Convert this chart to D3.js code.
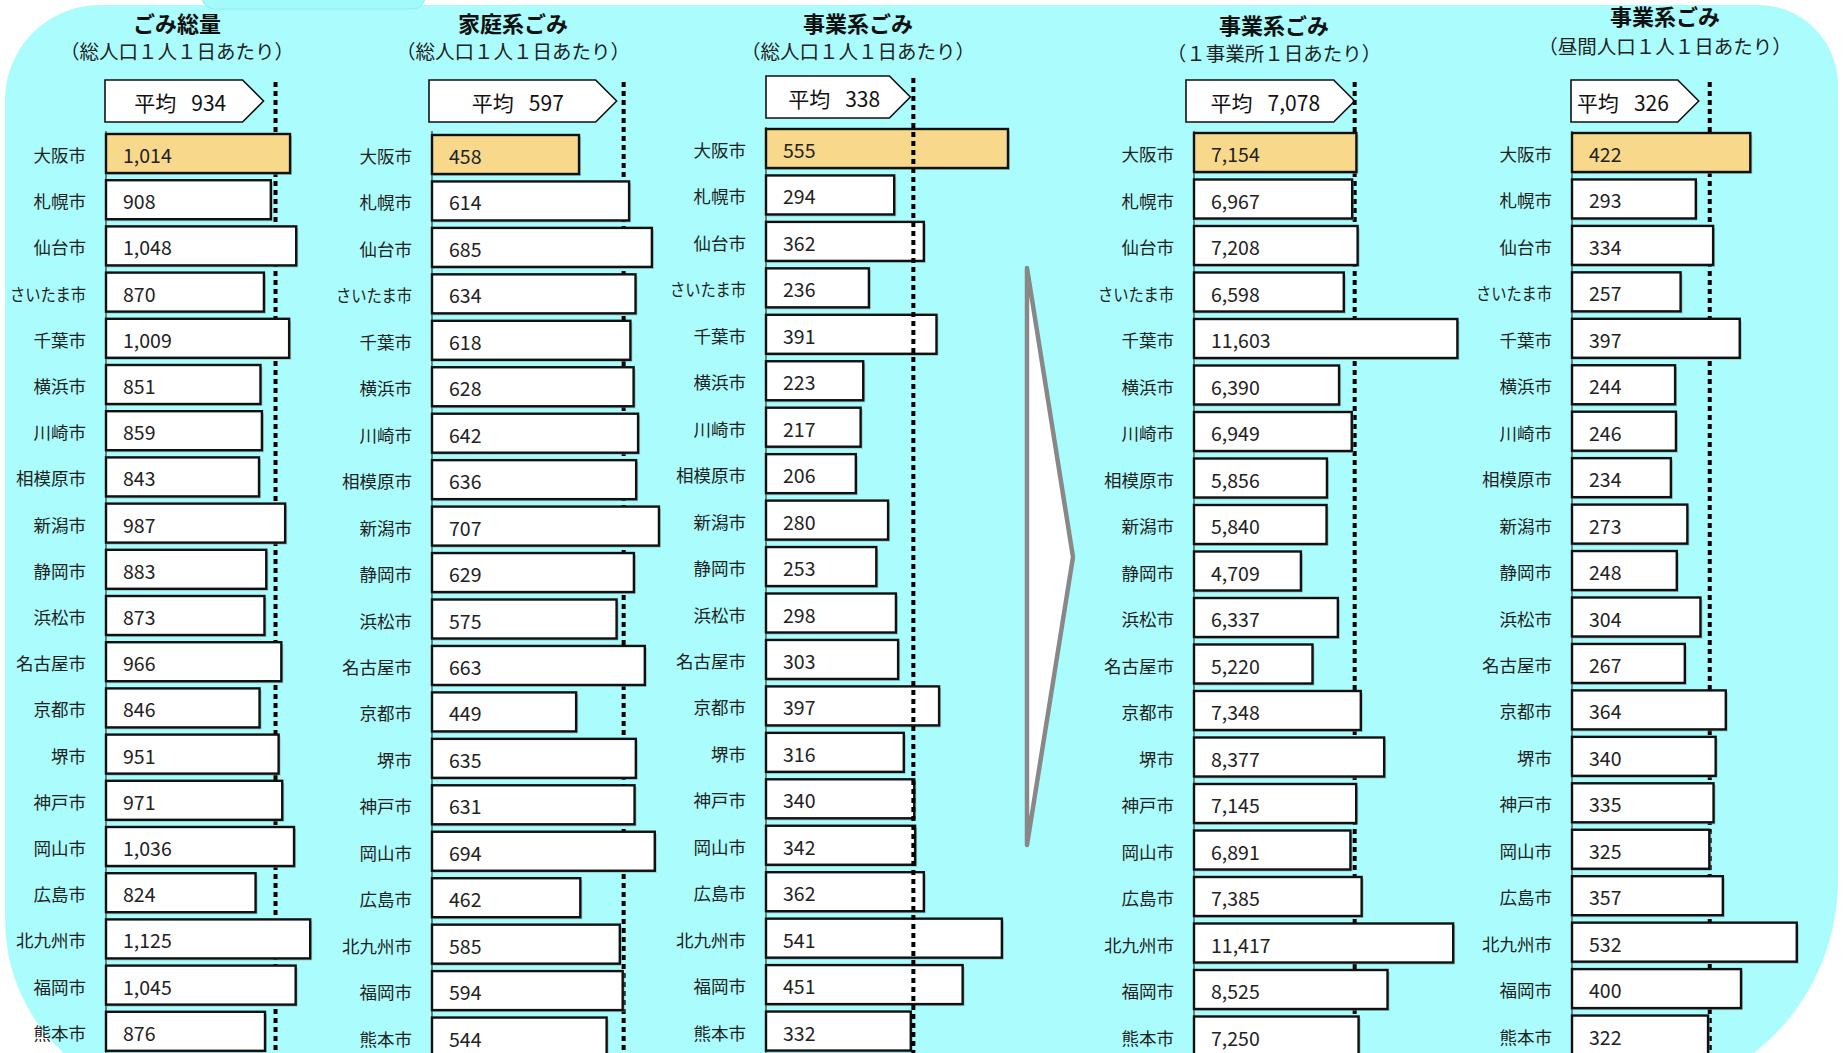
<!DOCTYPE html>
<html>
<head>
<meta charset="utf-8">
<script src="https://cdn.jsdelivr.net/npm/d3@7"></script>
<style>
  html, body { margin: 0; padding: 0; background: #fff; }
  svg { display: block; font-family: "Noto Sans CJK JP", "Noto Sans", sans-serif; }
</style>
</head>
<body>
<div id="chart"></div>
<script>
// ---- data ----
const cities = ['大阪市', '札幌市', '仙台市', 'さいたま市', '千葉市', '横浜市', '川崎市', '相模原市', '新潟市', '静岡市',
  '浜松市', '名古屋市', '京都市', '堺市', '神戸市', '岡山市', '広島市', '北九州市', '福岡市', '熊本市'];

const totalPerCapita = [1014, 908, 1048, 870, 1009, 851, 859, 843, 987, 883, 873, 966, 846, 951, 971, 1036, 824, 1125, 1045, 876];
const householdPerCapita = [458, 614, 685, 634, 618, 628, 642, 636, 707, 629, 575, 663, 449, 635, 631, 694, 462, 585, 594, 544];
const businessPerCapita = [555, 294, 362, 236, 391, 223, 217, 206, 280, 253, 298, 303, 397, 316, 340, 342, 362, 541, 451, 332];
const businessPerOffice = [7154, 6967, 7208, 6598, 11603, 6390, 6949, 5856, 5840, 4709, 6337, 5220, 7348, 8377, 7145, 6891, 7385, 11417, 8525, 7250];
const businessPerDaytime = [422, 293, 334, 257, 397, 244, 246, 234, 273, 248, 304, 267, 364, 340, 335, 325, 357, 532, 400, 322];

const averages = [934, 597, 338, 7078, 326];
const titles = ['ごみ総量', '家庭系ごみ', '事業系ごみ', '事業系ごみ', '事業系ごみ'];
const subtitles = ['（総人口１人１日あたり）', '（総人口１人１日あたり）', '（総人口１人１日あたり）', '（１事業所１日あたり）', '（昼間人口１人１日あたり）'];
const seriesValues = [totalPerCapita, householdPerCapita, businessPerCapita, businessPerOffice, businessPerDaytime];
const highlightCity = '大阪市';

// ---- layout (one entry per panel) ----
const W = 1845, H = 1053;
const panels = [
  { x0: 106, span: 1000, px: 181.5, top: 134, step: 46.2, boxTop: 80, boxLeft: 105, tipGap: 12, textShift: -4, titleX: 177, titleY: 22, subY: 50, dotsOnTop: false },
  { x0: 432, span: 1000, px: 321, top: 135, step: 46.45, boxTop: 80, boxLeft: 429, tipGap: 7, textShift: -5, titleX: 513, titleY: 22, subY: 50, dotsOnTop: false },
  { x0: 766, span: 1000, px: 436, top: 129, step: 46.45, boxTop: 76, boxLeft: 766, tipGap: 3, textShift: -4, titleX: 858, titleY: 22, subY: 50, dotsOnTop: true },
  { x0: 1194, span: 10000, px: 227, top: 133, step: 46.5, boxTop: 80, boxLeft: 1186, tipGap: 0, textShift: -5, titleX: 1274, titleY: 24, subY: 52, dotsOnTop: false },
  { x0: 1572, span: 1000, px: 422.5, top: 133, step: 46.45, boxTop: 80, boxLeft: 1571, tipGap: 11, textShift: -12, titleX: 1665, titleY: 15, subY: 45, dotsOnTop: false }
];
const barH = 39;
const boxH = 42;

const svg = d3.select('#chart').append('svg')
  .attr('width', W).attr('height', H)
  .attr('viewBox', `0 0 ${W} ${H}`);

// rounded rect with its own radius per corner
function roundedPath(x, y, w, h, tl, tr, br, bl) {
  return `M${x + tl},${y}H${x + w - tr}A${tr},${tr} 0 0 1 ${x + w},${y + tr}` +
    `V${y + h - br}A${br},${br} 0 0 1 ${x + w - br},${y + h}` +
    `H${x + bl}A${bl},${bl} 0 0 1 ${x},${y + h - bl}` +
    `V${y + tl}A${tl},${tl} 0 0 1 ${x + tl},${y}Z`;
}

// background panel
svg.append('path')
  .attr('d', roundedPath(5, 5, 1833, 1095, 95, 80, 220, 180))
  .attr('fill', '#abfcfc');

// little tab sticking in from the top
svg.append('rect')
  .attr('x', 202).attr('y', -20).attr('width', 223).attr('height', 29)
  .attr('rx', 12)
  .attr('fill', '#a4fafa')
  .attr('stroke', '#8eeeee')
  .attr('stroke-width', 1);

// big arrow between the per-capita panels and the per-office panel
const arrowPts = [[1027, 268], [1073, 557], [1027, 845]];
svg.append('path')
  .attr('d', d3.line()(arrowPts) + 'Z')
  .attr('fill', '#ffffff')
  .attr('stroke', '#888888')
  .attr('stroke-width', 4.5)
  .attr('stroke-linejoin', 'round')
  .attr('stroke-linecap', 'round');

const fmt = d3.format(',');
const hasKana = s => /[\u3040-\u309f]/.test(s);

panels.forEach((p, i) => {
  const values = seriesValues[i];
  const avg = averages[i];
  const g = svg.append('g').attr('class', `panel panel-${i}`);

  const n = cities.length;
  const x = d3.scaleLinear().domain([0, p.span]).range([p.x0, p.x0 + p.px]);
  // band step = p.step, band width = barH
  const y = d3.scaleBand()
    .domain(cities)
    .range([p.top, p.top + p.step * (n - 1) + barH])
    .paddingInner((p.step - barH) / p.step)
    .paddingOuter(0);

  // titles
  g.append('text')
    .attr('x', p.titleX).attr('y', p.titleY)
    .attr('text-anchor', 'middle').attr('dominant-baseline', 'central')
    .attr('font-size', 22).attr('font-weight', 'bold')
    .attr('fill', '#111')
    .text(titles[i]);

  g.append('text')
    .attr('x', p.titleX).attr('y', p.subY)
    .attr('text-anchor', 'middle').attr('dominant-baseline', 'central')
    .attr('font-size', 19.5)
    .attr('fill', '#222')
    .text(subtitles[i]);

  // average marker box (pentagon pointing at the average line)
  const ax = x(avg);
  const tipX = ax - p.tipGap;
  const bodyR = tipX - 21;
  const boxPts = [[p.boxLeft, p.boxTop], [bodyR, p.boxTop], [tipX, p.boxTop + boxH / 2],
    [bodyR, p.boxTop + boxH], [p.boxLeft, p.boxTop + boxH]];
  g.append('path')
    .attr('d', d3.line()(boxPts) + 'Z')
    .attr('fill', '#fff')
    .attr('stroke', '#111')
    .attr('stroke-width', 1.6)
    .attr('stroke-linejoin', 'miter');

  const boxText = g.append('text')
    .attr('x', (p.boxLeft + tipX) / 2 + p.textShift)
    .attr('y', p.boxTop + boxH / 2 + 1)
    .attr('text-anchor', 'middle').attr('dominant-baseline', 'central')
    .attr('font-size', 21)
    .attr('fill', '#111');
  boxText.append('tspan').text('平均');
  boxText.append('tspan').attr('dx', 15).text(fmt(avg));

  // axis line at zero
  g.append('line')
    .attr('x1', p.x0).attr('x2', p.x0)
    .attr('y1', p.boxTop + boxH + 9).attr('y2', H)
    .attr('stroke', '#333').attr('stroke-width', 1.2);

  const drawDots = () => g.append('line')
    .attr('x1', ax).attr('x2', ax)
    .attr('y1', p.boxTop + 2).attr('y2', H)
    .attr('stroke', '#000')
    .attr('stroke-width', 4)
    .attr('stroke-dasharray', '5,4');

  if (!p.dotsOnTop) drawDots();

  const rows = g.selectAll('g.row')
    .data(cities.map((c, j) => ({ city: c, value: values[j] })))
    .join('g')
    .attr('class', 'row');

  // soft shadow under each bar
  rows.append('rect')
    .attr('x', p.x0 + 1)
    .attr('y', d => y(d.city) + 2)
    .attr('width', d => x(d.value) - p.x0 + 1)
    .attr('height', y.bandwidth())
    .attr('fill', '#7a9a9a')
    .attr('opacity', 0.55);

  rows.append('rect')
    .attr('x', p.x0)
    .attr('y', d => y(d.city))
    .attr('width', d => x(d.value) - p.x0)
    .attr('height', y.bandwidth())
    .attr('fill', d => d.city === highlightCity ? '#f8d98c' : '#ffffff')
    .attr('stroke', '#111')
    .attr('stroke-width', 2.4);

  rows.append('text')
    .attr('x', p.x0 + 17)
    .attr('y', d => y(d.city) + y.bandwidth() / 2 + 1)
    .attr('dominant-baseline', 'central')
    .attr('font-size', 19.5)
    .attr('fill', '#222')
    .text(d => fmt(d.value));

  // kana in the original font is narrower than kanji, so squeeze those labels a bit
  rows.append('text')
    .attr('x', p.x0 - 20)
    .attr('y', d => y(d.city) + y.bandwidth() / 2 + 1)
    .attr('text-anchor', 'end')
    .attr('dominant-baseline', 'central')
    .attr('font-size', 17.5)
    .attr('fill', '#222')
    .attr('textLength', d => hasKana(d.city) ? 76 : null)
    .attr('lengthAdjust', 'spacingAndGlyphs')
    .text(d => d.city);

  if (p.dotsOnTop) drawDots();
});
</script>
</body>
</html>
